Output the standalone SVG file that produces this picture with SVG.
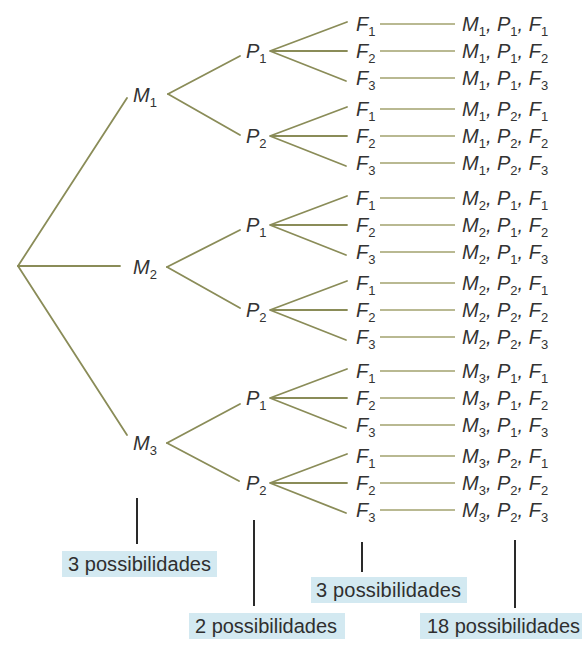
<svg xmlns="http://www.w3.org/2000/svg" width="584" height="655" viewBox="0 0 584 655">
<style>
.t{font-family:"Liberation Sans",Arial,sans-serif;font-style:italic;font-size:20px;fill:#333}
.s{font-style:normal;font-size:13px}
.e{stroke:#8a8c58;stroke-width:1.8;fill:none;stroke-linecap:round}
.h{stroke:#a3a36f;stroke-width:1.7;fill:none}
.v{stroke:#2a2a2a;stroke-width:2}
.box{fill:#d3e9f1}
.bt{font-family:"Liberation Sans",Arial,sans-serif;font-size:20px;fill:#2f2f2f}
</style>
<rect width="584" height="655" fill="#ffffff"/>
<g id="connectors">
<line class="e" x1="18" y1="266" x2="127" y2="98"/>
<line class="e" x1="18" y1="266" x2="120" y2="266"/>
<line class="e" x1="18" y1="266" x2="127" y2="435"/>
<line class="e" x1="168" y1="94" x2="240" y2="56"/>
<line class="e" x1="168" y1="94" x2="240" y2="135"/>
<line class="e" x1="167" y1="267" x2="240" y2="230"/>
<line class="e" x1="167" y1="267" x2="240" y2="308"/>
<line class="e" x1="167" y1="443" x2="240" y2="404"/>
<line class="e" x1="167" y1="443" x2="239" y2="481"/>
<path class="e" d="M347,22L270,51L347,51M270,51L346,81"/>
<path class="e" d="M347,107L270,136L347,136M270,136L346,166"/>
<path class="e" d="M347,196L270,225L347,225M270,225L346,255"/>
<path class="e" d="M347,281L270,310L347,310M270,310L346,340"/>
<path class="e" d="M347,369L270,398L347,398M270,398L346,428"/>
<path class="e" d="M347,454L270,483L347,483M270,483L346,513"/>
<path class="h" d="M380,24H455M380,51H455M380,78H455M380,109H455M380,136H455M380,163H455M380,198H455M380,225H455M380,252H455M380,283H455M380,310H455M380,337H455M380,371H455M380,398H455M380,425H455M380,456H455M380,483H455M380,510H455"/>
<line class="v" x1="137" y1="498" x2="137" y2="544"/>
<line class="v" x1="254" y1="520" x2="254" y2="606"/>
<line class="v" x1="362" y1="542" x2="362" y2="572"/>
<line class="v" x1="515" y1="540" x2="515" y2="608"/>
</g>
<g id="M1"><text class="t" x="133" y="102">M<tspan class="s" dy="5">1</tspan></text></g>
<g id="M2"><text class="t" x="133" y="274">M<tspan class="s" dy="5">2</tspan></text></g>
<g id="M3"><text class="t" x="133" y="450">M<tspan class="s" dy="5">3</tspan></text></g>
<g id="M1P1"><text class="t" x="246" y="58">P<tspan class="s" dy="5">1</tspan></text></g>
<g id="M1P2"><text class="t" x="246" y="143">P<tspan class="s" dy="5">2</tspan></text></g>
<g id="M2P1"><text class="t" x="246" y="232">P<tspan class="s" dy="5">1</tspan></text></g>
<g id="M2P2"><text class="t" x="246" y="317">P<tspan class="s" dy="5">2</tspan></text></g>
<g id="M3P1"><text class="t" x="246" y="405">P<tspan class="s" dy="5">1</tspan></text></g>
<g id="M3P2"><text class="t" x="246" y="490">P<tspan class="s" dy="5">2</tspan></text></g>
<g id="F-nodes">
<text class="t" x="356" y="31">F<tspan class="s" dy="5">1</tspan></text>
<text class="t" x="356" y="58">F<tspan class="s" dy="5">2</tspan></text>
<text class="t" x="356" y="85">F<tspan class="s" dy="5">3</tspan></text>
<text class="t" x="356" y="116">F<tspan class="s" dy="5">1</tspan></text>
<text class="t" x="356" y="143">F<tspan class="s" dy="5">2</tspan></text>
<text class="t" x="356" y="170">F<tspan class="s" dy="5">3</tspan></text>
<text class="t" x="356" y="205">F<tspan class="s" dy="5">1</tspan></text>
<text class="t" x="356" y="232">F<tspan class="s" dy="5">2</tspan></text>
<text class="t" x="356" y="259">F<tspan class="s" dy="5">3</tspan></text>
<text class="t" x="356" y="290">F<tspan class="s" dy="5">1</tspan></text>
<text class="t" x="356" y="317">F<tspan class="s" dy="5">2</tspan></text>
<text class="t" x="356" y="344">F<tspan class="s" dy="5">3</tspan></text>
<text class="t" x="356" y="378">F<tspan class="s" dy="5">1</tspan></text>
<text class="t" x="356" y="405">F<tspan class="s" dy="5">2</tspan></text>
<text class="t" x="356" y="432">F<tspan class="s" dy="5">3</tspan></text>
<text class="t" x="356" y="463">F<tspan class="s" dy="5">1</tspan></text>
<text class="t" x="356" y="490">F<tspan class="s" dy="5">2</tspan></text>
<text class="t" x="356" y="517">F<tspan class="s" dy="5">3</tspan></text>
</g>
<g id="results">
<text class="t" x="462" y="31">M<tspan class="s" dy="5">1</tspan><tspan dy="-5">, P</tspan><tspan class="s" dy="5">1</tspan><tspan dy="-5">, F</tspan><tspan class="s" dy="5">1</tspan></text>
<text class="t" x="462" y="58">M<tspan class="s" dy="5">1</tspan><tspan dy="-5">, P</tspan><tspan class="s" dy="5">1</tspan><tspan dy="-5">, F</tspan><tspan class="s" dy="5">2</tspan></text>
<text class="t" x="462" y="85">M<tspan class="s" dy="5">1</tspan><tspan dy="-5">, P</tspan><tspan class="s" dy="5">1</tspan><tspan dy="-5">, F</tspan><tspan class="s" dy="5">3</tspan></text>
<text class="t" x="462" y="116">M<tspan class="s" dy="5">1</tspan><tspan dy="-5">, P</tspan><tspan class="s" dy="5">2</tspan><tspan dy="-5">, F</tspan><tspan class="s" dy="5">1</tspan></text>
<text class="t" x="462" y="143">M<tspan class="s" dy="5">1</tspan><tspan dy="-5">, P</tspan><tspan class="s" dy="5">2</tspan><tspan dy="-5">, F</tspan><tspan class="s" dy="5">2</tspan></text>
<text class="t" x="462" y="170">M<tspan class="s" dy="5">1</tspan><tspan dy="-5">, P</tspan><tspan class="s" dy="5">2</tspan><tspan dy="-5">, F</tspan><tspan class="s" dy="5">3</tspan></text>
<text class="t" x="462" y="205">M<tspan class="s" dy="5">2</tspan><tspan dy="-5">, P</tspan><tspan class="s" dy="5">1</tspan><tspan dy="-5">, F</tspan><tspan class="s" dy="5">1</tspan></text>
<text class="t" x="462" y="232">M<tspan class="s" dy="5">2</tspan><tspan dy="-5">, P</tspan><tspan class="s" dy="5">1</tspan><tspan dy="-5">, F</tspan><tspan class="s" dy="5">2</tspan></text>
<text class="t" x="462" y="259">M<tspan class="s" dy="5">2</tspan><tspan dy="-5">, P</tspan><tspan class="s" dy="5">1</tspan><tspan dy="-5">, F</tspan><tspan class="s" dy="5">3</tspan></text>
<text class="t" x="462" y="290">M<tspan class="s" dy="5">2</tspan><tspan dy="-5">, P</tspan><tspan class="s" dy="5">2</tspan><tspan dy="-5">, F</tspan><tspan class="s" dy="5">1</tspan></text>
<text class="t" x="462" y="317">M<tspan class="s" dy="5">2</tspan><tspan dy="-5">, P</tspan><tspan class="s" dy="5">2</tspan><tspan dy="-5">, F</tspan><tspan class="s" dy="5">2</tspan></text>
<text class="t" x="462" y="344">M<tspan class="s" dy="5">2</tspan><tspan dy="-5">, P</tspan><tspan class="s" dy="5">2</tspan><tspan dy="-5">, F</tspan><tspan class="s" dy="5">3</tspan></text>
<text class="t" x="462" y="378">M<tspan class="s" dy="5">3</tspan><tspan dy="-5">, P</tspan><tspan class="s" dy="5">1</tspan><tspan dy="-5">, F</tspan><tspan class="s" dy="5">1</tspan></text>
<text class="t" x="462" y="405">M<tspan class="s" dy="5">3</tspan><tspan dy="-5">, P</tspan><tspan class="s" dy="5">1</tspan><tspan dy="-5">, F</tspan><tspan class="s" dy="5">2</tspan></text>
<text class="t" x="462" y="432">M<tspan class="s" dy="5">3</tspan><tspan dy="-5">, P</tspan><tspan class="s" dy="5">1</tspan><tspan dy="-5">, F</tspan><tspan class="s" dy="5">3</tspan></text>
<text class="t" x="462" y="463">M<tspan class="s" dy="5">3</tspan><tspan dy="-5">, P</tspan><tspan class="s" dy="5">2</tspan><tspan dy="-5">, F</tspan><tspan class="s" dy="5">1</tspan></text>
<text class="t" x="462" y="490">M<tspan class="s" dy="5">3</tspan><tspan dy="-5">, P</tspan><tspan class="s" dy="5">2</tspan><tspan dy="-5">, F</tspan><tspan class="s" dy="5">2</tspan></text>
<text class="t" x="462" y="517">M<tspan class="s" dy="5">3</tspan><tspan dy="-5">, P</tspan><tspan class="s" dy="5">2</tspan><tspan dy="-5">, F</tspan><tspan class="s" dy="5">3</tspan></text>
</g>
<g id="label-M"><rect class="box" x="62" y="551" width="155" height="26"/><text class="bt" x="68" y="571" textLength="143">3 possibilidades</text></g>
<g id="label-P"><rect class="box" x="189" y="613" width="156" height="26"/><text class="bt" x="195" y="633" textLength="142">2 possibilidades</text></g>
<g id="label-F"><rect class="box" x="311" y="577" width="156" height="26"/><text class="bt" x="316" y="597" textLength="145">3 possibilidades</text></g>
<g id="label-total"><rect class="box" x="420" y="613" width="162" height="26"/><text class="bt" x="427" y="633" textLength="153">18 possibilidades</text></g>
</svg>
